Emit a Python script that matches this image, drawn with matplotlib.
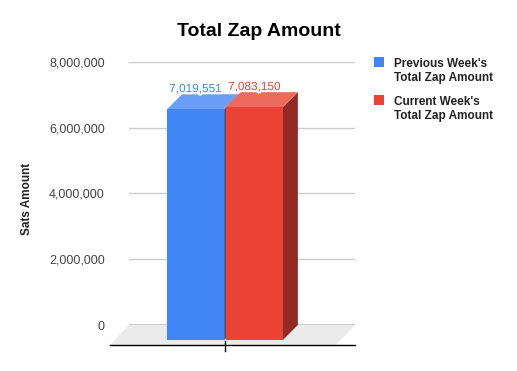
import matplotlib.pyplot as plt
import matplotlib.patheffects as pe
from matplotlib.patches import Polygon, Rectangle

# --- chart data ---
series = ["Previous Week's\nTotal Zap Amount", "Current Week's\nTotal Zap Amount"]
values = [7019551, 7083150]
y_ticks = [0, 2000000, 4000000, 6000000, 8000000]

front_colors = ["#4285f4", "#ea4335"]
top_colors = ["#6b9ef6", "#ee6a5d"]
side_colors = ["#2c5aa6", "#942a23"]

plt.rcParams['font.family'] = ['Liberation Sans', 'DejaVu Sans']

W, H = 517, 371
fig = plt.figure(figsize=(W / 100, H / 100), dpi=100)
ax = fig.add_axes([129 / W, 1 - 325 / H, 226 / W, 263 / H])
x0, x1 = -0.982, 1.018
ax.set_xlim(x0, x1)
ax.set_ylim(y_ticks[0], y_ticks[-1])

# pixel -> data conversion for the fake 3d depth
px_x = ax.bbox.width / (x1 - x0)
px_y = ax.bbox.height / (y_ticks[-1] - y_ticks[0])
bdx, bdy = 15 / px_x, 15 / px_y     # bar depth
fdx, fdy = 19 / px_x, 20 / px_y     # floor depth

# --- floor ---
ax.add_patch(Polygon([(x0, 0), (x1, 0), (x1 - fdx, -fdy), (x0 - fdx, -fdy)],
                     closed=True, facecolor="#ebebeb", edgecolor="none",
                     zorder=0, clip_on=False))

# --- grid ---
for t in y_ticks[1:]:
    ax.axhline(t, color="#cccccc", lw=1, zorder=0.5)
ax.axhline(0, color="black", lw=1, zorder=0.6)
ax.plot([x0 - fdx, x1], [-fdy, -fdy], color="black", lw=1, clip_on=False, zorder=0.6)

# --- bars ---
width, gap = 0.505, 0.015
for i, (v, name) in enumerate(zip(values, series)):
    xl = -width - gap / 2 if i == 0 else gap / 2
    xr = xl + width
    side = [(xr - bdx, -bdy), (xr - bdx, v - bdy), (xr, v), (xr, 0)]
    top = [(xl - bdx, v - bdy), (xr - bdx, v - bdy), (xr, v), (xl, v)]
    ax.add_patch(Polygon(side, closed=True, facecolor=side_colors[i],
                         edgecolor="none", zorder=2 + i, clip_on=False))
    ax.add_patch(Polygon(top, closed=True, facecolor=top_colors[i],
                         edgecolor="none", zorder=2 + i, clip_on=False))
    ax.add_patch(Rectangle((xl - bdx, -bdy), width, v, facecolor=front_colors[i],
                           edgecolor="none", zorder=2 + i, clip_on=False))
    ax.annotate(f"{v:,}", xy=((xl + xr) / 2 - bdx, v - bdy), xytext=(0, 14.5),
                textcoords="offset points", ha="center", va="center",
                fontsize=8.5, color=front_colors[i], zorder=5,
                path_effects=[pe.withStroke(linewidth=3, foreground="white")])

# category tick on the front edge
ax.plot([-bdx, -bdx], [-fdy + 4 / px_y, -fdy - 6 / px_y], color="black",
        lw=1, clip_on=False, zorder=4)

# --- axes styling ---
for s in ax.spines.values():
    s.set_visible(False)
ax.set_xticks([])
ax.set_yticks(y_ticks)
ax.set_yticklabels([f"{t:,}" for t in y_ticks])
ax.tick_params(axis="y", length=0, pad=17.5, labelsize=9, labelcolor="#444444")

fig.text(27.5 / W, 1 - 199 / H, "Sats Amount", rotation=90, ha="center",
         va="center", fontsize=8.5, fontweight="bold", color="#222222")
fig.text(259 / W, 1 - 31 / H, "Total Zap Amount", ha="center", va="center",
         fontsize=14, fontweight="bold", color="black")

# --- legend ---
leg_top = [57, 95]
for i, name in enumerate(series):
    fig.add_artist(Rectangle((374 / W, 1 - (leg_top[i] + 10) / H), 10 / W, 10 / H,
                             transform=fig.transFigure, facecolor=front_colors[i],
                             edgecolor="none"))
    for j, line in enumerate(name.split("\n")):
        fig.text(394 / W, 1 - (leg_top[i] + 10 + 13.5 * j) / H, line,
                 ha="left", va="baseline", fontsize=8.5, fontweight="bold",
                 color="#222222")

fig.savefig("out.png", dpi=100)
